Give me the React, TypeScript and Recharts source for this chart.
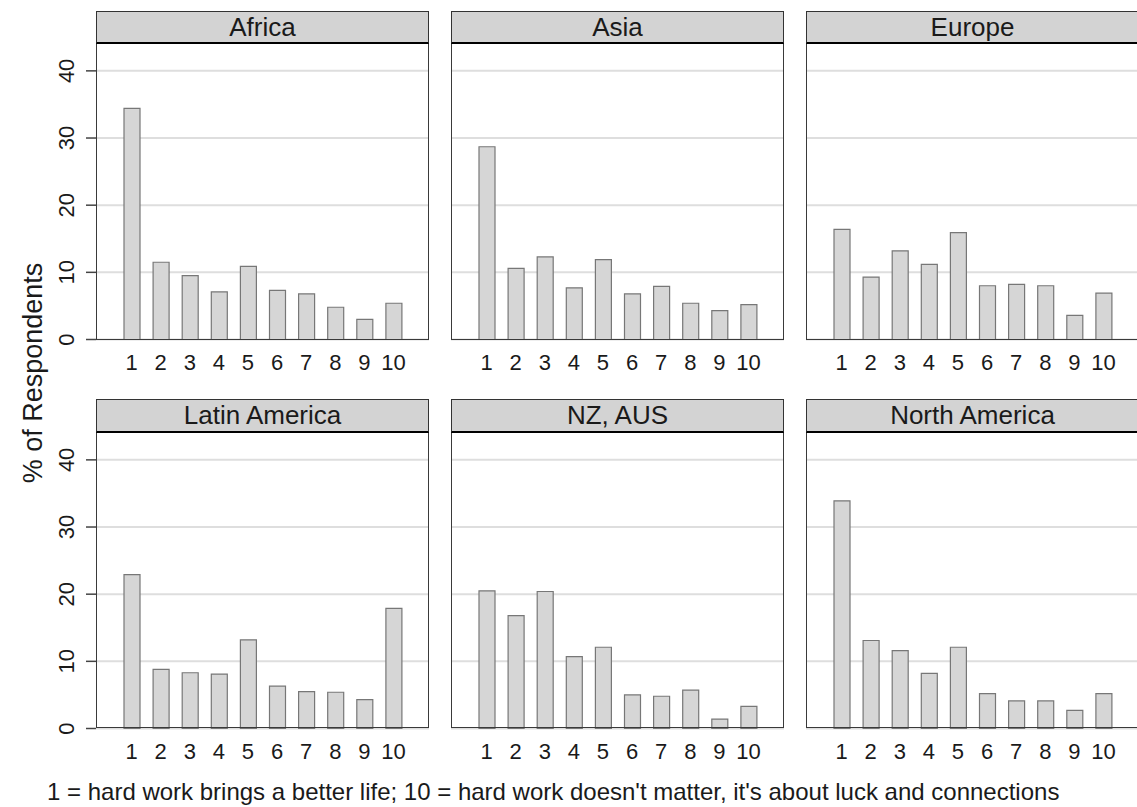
import React from 'react';
import { BarChart, Bar, XAxis, YAxis, CartesianGrid } from 'recharts';

// Answer scale 1..10
const scores = ['1', '2', '3', '4', '5', '6', '7', '8', '9', '10'];

// % of respondents per answer, by region
const africa = [34.4, 11.5, 9.5, 7.1, 10.9, 7.3, 6.8, 4.8, 3.0, 5.4];
const asia = [28.7, 10.6, 12.3, 7.7, 11.9, 6.8, 7.9, 5.4, 4.3, 5.2];
const europe = [16.4, 9.3, 13.2, 11.2, 15.9, 8.0, 8.2, 8.0, 3.6, 6.9];
const latinAmerica = [22.9, 8.8, 8.3, 8.1, 13.2, 6.3, 5.5, 5.4, 4.3, 17.9];
const nzAus = [20.5, 16.8, 20.4, 10.7, 12.1, 5.0, 4.8, 5.7, 1.4, 3.3];
const northAmerica = [33.9, 13.1, 11.6, 8.2, 12.1, 5.2, 4.1, 4.1, 2.7, 5.2];

const regions = ['Africa', 'Asia', 'Europe', 'Latin America', 'NZ, AUS', 'North America'];
const regionValues = [africa, asia, europe, latinAmerica, nzAus, northAmerica];

const yTicks = [0, 10, 20, 30, 40];
const Y_MAX = 44;

const FONT = '"Liberation Sans", Arial, Helvetica, sans-serif';
const PANEL_W = 333;
const PLOT_H = 295.5;
const AXIS_W = 80;
const colLeft = [96, 451, 806];
const stripTop = [10.5, 399];
const plotTop = [44.3, 432.8];

const YTick = ({ x, y, payload }: any) => (
  <text
    x={x}
    y={y}
    transform={`rotate(-90, ${x}, ${y})`}
    textAnchor="middle"
    fontSize={22}
    fontFamily={FONT}
    fill="#1a1a1a"
  >
    {payload.value}
  </text>
);

function Panel({ title, values, col, row }: { title: string; values: number[]; col: number; row: number }) {
  const showY = col === 0;
  const left = colLeft[col];
  const top = plotTop[row];
  const data = scores.map((s, i) => ({ score: s, pct: values[i] }));
  const chartLeft = showY ? left - AXIS_W : left;
  const chartW = PANEL_W + (showY ? AXIS_W : 0);

  return (
    <>
      <div
        style={{
          position: 'absolute',
          left,
          top: stripTop[row],
          width: PANEL_W,
          height: top - stripTop[row],
          boxSizing: 'border-box',
          background: '#d3d3d3',
          border: '1.5px solid #333',
          borderBottom: '2.5px solid #000',
          display: 'flex',
          alignItems: 'center',
          justifyContent: 'center',
          fontFamily: FONT,
          fontSize: 26,
          color: '#1a1a1a',
          paddingTop: 1,
        }}
      >
        {title}
      </div>
      <div style={{ position: 'absolute', left: chartLeft, top }}>
        <BarChart
          width={chartW}
          height={PLOT_H + 40}
          data={data}
          margin={{ top: 0, right: 0, bottom: 0, left: 0 }}
        >
          <CartesianGrid
            vertical={false}
            stroke="#dedede"
            strokeWidth={2}
            horizontalValues={yTicks}
          />
          <XAxis
            dataKey="score"
            type="category"
            height={40}
            padding={{ left: 21, right: 21 }}
            axisLine={false}
            tickLine={false}
            tickSize={0}
            tickMargin={15}
            interval={0}
            tick={{ fontSize: 22, fontFamily: FONT, fill: '#1a1a1a' }}
          />
          <YAxis
            type="number"
            domain={[0, Y_MAX]}
            ticks={yTicks}
            hide={!showY}
            width={AXIS_W}
            axisLine={false}
            tickSize={10}
            tickMargin={12}
            tickLine={{ stroke: '#444', strokeWidth: 1.5 }}
            tick={<YTick />}
          />
          <Bar
            dataKey="pct"
            barSize={16}
            fill="#d6d6d6"
            stroke="#777"
            strokeWidth={1.2}
            isAnimationActive={false}
          />
        </BarChart>
      </div>
      <div
        style={{
          position: 'absolute',
          left,
          top,
          width: PANEL_W,
          height: PLOT_H,
          boxSizing: 'border-box',
          border: '1.5px solid #3a3a3a',
          borderTop: 'none',
          pointerEvents: 'none',
        }}
      />
    </>
  );
}

export default function App() {
  return (
    <div
      style={{
        position: 'absolute',
        left: 0,
        top: 0,
        width: 1137,
        height: 807,
        overflow: 'hidden',
        background: '#fff',
        fontFamily: FONT,
      }}
    >
      {regions.map((r, i) => (
        <Panel key={r} title={r} values={regionValues[i]} col={i % 3} row={Math.floor(i / 3)} />
      ))}
      <div
        style={{
          position: 'absolute',
          left: 33,
          top: 373,
          transform: 'translate(-50%, -50%) rotate(-90deg)',
          fontSize: 27,
          color: '#1a1a1a',
          whiteSpace: 'nowrap',
        }}
      >
        % of Respondents
      </div>
      <div
        style={{
          position: 'absolute',
          left: 47,
          top: 778,
          fontSize: 24,
          color: '#1a1a1a',
          whiteSpace: 'nowrap',
        }}
      >
        1 = hard work brings a better life; 10 = hard work doesn't matter, it's about luck and connections
      </div>
    </div>
  );
}
